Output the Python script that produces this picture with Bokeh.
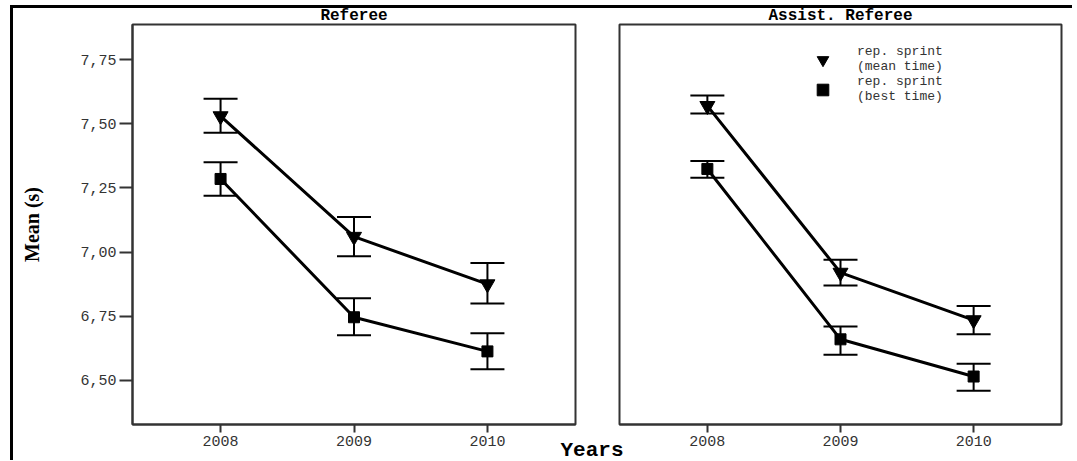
from bokeh.plotting import figure
from bokeh.layouts import row, column
from bokeh.models import (ColumnDataSource, Whisker, TeeHead, FixedTicker, Range1d,
                          Legend, LegendItem, Div)
from bokeh.embed import file_html
from bokeh.resources import INLINE

# ---------------- data ----------------
years = [2008, 2009, 2010]
panel_titles = ["Referee", "Assist. Referee"]
y_ticks = [6.50, 6.75, 7.00, 7.25, 7.50, 7.75]
y_tick_labels = ["6,50", "6,75", "7,00", "7,25", "7,50", "7,75"]

ref_mean = [7.53, 7.06, 6.875]
ref_mean_lo = [7.465, 6.984, 6.80]
ref_mean_hi = [7.598, 7.137, 6.957]
ref_best = [7.285, 6.746, 6.613]
ref_best_lo = [7.22, 6.676, 6.543]
ref_best_hi = [7.35, 6.82, 6.684]

ast_mean = [7.57, 6.92, 6.735]
ast_mean_lo = [7.54, 6.87, 6.68]
ast_mean_hi = [7.61, 6.97, 6.79]
ast_best = [7.324, 6.66, 6.515]
ast_best_lo = [7.29, 6.60, 6.46]
ast_best_hi = [7.355, 6.71, 6.565]

series_labels = ["rep. sprint\n(mean time)", "rep. sprint\n(best time)"]
x_label = "Years"
y_label = "Mean (s)"

X_RANGE = (2007.34, 2010.66)
Y_RANGE = (6.328, 7.887)

MONO = "Liberation Mono"
INK = "#333333"


def make_panel(title, mean, mean_lo, mean_hi, best, best_lo, best_hi,
               width, left, right, show_y):
    p = figure(width=width, height=454,
               x_range=Range1d(*X_RANGE), y_range=Range1d(*Y_RANGE),
               output_backend="svg", toolbar_location=None,
               min_border_left=left, min_border_right=right,
               min_border_top=17, min_border_bottom=34)
    p.border_fill_color = None
    p.background_fill_color = "white"
    p.outline_line_color = INK
    p.outline_line_width = 2
    p.xgrid.visible = False
    p.ygrid.visible = False

    p.title.text = title
    p.title.align = "center"
    p.title.text_font = MONO
    p.title.text_font_style = "bold"
    p.title.text_font_size = "16px"
    p.title.text_color = "black"
    p.title.standoff = 0

    xa = p.xaxis[0]
    xa.ticker = FixedTicker(ticks=years)
    xa.minor_tick_line_color = None
    xa.major_tick_in = 0
    xa.major_tick_out = 8
    xa.major_tick_line_width = 2
    xa.major_tick_line_color = INK
    xa.axis_line_color = INK
    xa.axis_line_width = 2
    xa.major_label_standoff = 3
    xa.major_label_text_font = MONO
    xa.major_label_text_font_size = "15px"
    xa.major_label_text_color = INK

    ya = p.yaxis[0]
    if show_y:
        ya.ticker = FixedTicker(ticks=y_ticks)
        ya.major_label_overrides = dict(zip(y_ticks, y_tick_labels))
        ya.minor_tick_line_color = None
        ya.major_tick_in = 0
        ya.major_tick_out = 13
        ya.major_tick_line_width = 2
        ya.major_tick_line_color = INK
        ya.axis_line_color = INK
        ya.axis_line_width = 2
        ya.major_label_standoff = 3
        ya.major_label_text_font = MONO
        ya.major_label_text_font_size = "15px"
        ya.major_label_text_color = INK
        ya.axis_label = y_label
        ya.axis_label_text_font = "Liberation Serif"
        ya.axis_label_text_font_style = "bold"
        ya.axis_label_text_font_size = "20px"
        ya.axis_label_text_color = "black"
        ya.axis_label_standoff = 34
    else:
        ya.visible = False

    # connecting lines
    p.line(years, mean, line_width=3, line_color="black")
    p.line(years, best, line_width=3, line_color="black")

    # error bars
    for lo, hi in ((mean_lo, mean_hi), (best_lo, best_hi)):
        src = ColumnDataSource(dict(x=years, lo=lo, hi=hi))
        w = Whisker(base="x", lower="lo", upper="hi", source=src,
                    line_color="black", line_width=2,
                    upper_head=TeeHead(size=34, line_width=2, line_color="black"),
                    lower_head=TeeHead(size=34, line_width=2, line_color="black"))
        p.add_layout(w)

    tri = p.scatter(years, mean, marker="inverted_triangle", size=15,
                    fill_color="black", line_color="black")
    sq = p.scatter(years, best, marker="square", size=11,
                   fill_color="black", line_color="black")
    return p, tri, sq


p1, _, _ = make_panel(panel_titles[0], ref_mean, ref_mean_lo, ref_mean_hi,
                      ref_best, ref_best_lo, ref_best_hi,
                      width=584, left=119, right=22, show_y=True)
p2, tri2, sq2 = make_panel(panel_titles[1], ast_mean, ast_mean_lo, ast_mean_hi,
                           ast_best, ast_best_lo, ast_best_hi,
                           width=532, left=79, right=11, show_y=False)
p2.margin = (0, 0, 0, -57)

legend = Legend(items=[LegendItem(label=series_labels[0], renderers=[tri2]),
                       LegendItem(label=series_labels[1], renderers=[sq2])],
                location=(186, 320), border_line_color=None,
                background_fill_alpha=0, padding=0, margin=0, spacing=0,
                glyph_width=35, glyph_height=29, label_standoff=17,
                label_text_font=MONO, label_text_font_size="13px",
                label_text_color=INK)
p2.add_layout(legend)

# shared x-axis title, centred between the two panels
years_div = Div(text=x_label, width=100, height=18, margin=(-16, 0, 0, 529),
                styles={"font-family": MONO, "font-weight": "bold",
                        "font-size": "21px", "line-height": "18px",
                        "text-align": "center", "color": "black"})

panels = row(p1, p2, margin=(-4, 0, 0, 0))
layout = column(panels, years_div, margin=(5, 0, 0, 10),
                styles={"border-left": "3px solid black",
                        "border-top": "3px solid black"})

open("out.html", "w").write(file_html(layout, INLINE))
